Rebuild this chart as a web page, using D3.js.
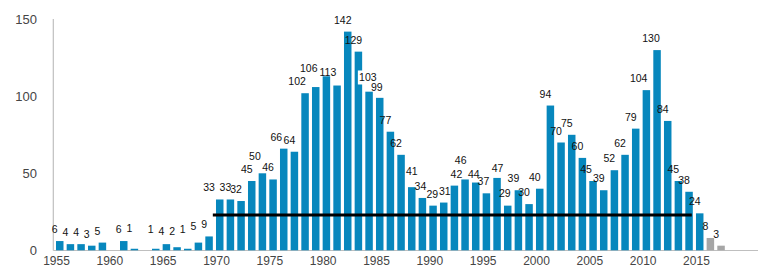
<!DOCTYPE html>
<html>
<head>
<meta charset="utf-8">
<script src="https://cdn.jsdelivr.net/npm/d3@7"></script>
<style>
  html, body { margin: 0; padding: 0; background: #fff; }
  svg { display: block; }
</style>
</head>
<body>
<svg id="chart" width="762" height="276"></svg>
<script>
// ---- data ----
const years = [1955,1956,1957,1958,1959,1960,1961,1962,1963,1964,1965,1966,1967,1968,1969,
  1970,1971,1972,1973,1974,1975,1976,1977,1978,1979,1980,1981,1982,1983,1984,1985,1986,1987,1988,1989,
  1990,1991,1992,1993,1994,1995,1996,1997,1998,1999,2000,2001,2002,2003,2004,2005,2006,2007,2008,2009,
  2010,2011,2012,2013,2014,2015,2016,2017];
const values = [6,4,4,3,5,0,6,1,0,1,4,2,1,5,9,
  33,33,32,45,50,46,66,64,102,106,113,107,142,129,103,99,77,62,41,34,
  29,31,42,46,44,37,47,29,39,30,40,94,70,75,60,45,39,52,62,79,
  104,130,84,45,38,24,8,3];
const provisionalYears = [2016, 2017];
const hiddenLabelYears = [1981];
const yTicks = [0, 50, 100, 150];
const xTickYears = [1955,1960,1965,1970,1975,1980,1985,1990,1995,2000,2005,2010,2015];
const refLine = { from: 1970, to: 2014, value: 23 };

// ---- drawing ----
const svg = d3.select("#chart");
const data = years.map((y, i) => ({ year: y, value: values[i] }));

const x = d3.scaleBand().domain(years).range([53.3, 727.5]).paddingInner(0.297).paddingOuter(0.253);
const y = d3.scaleLinear().domain([0, 150]).range([250.3, 19.3]);
const bw = x.bandwidth();
const step = x.step();

// axes lines
svg.append("line").attr("x1", 53.3).attr("x2", 53.3).attr("y1", 19).attr("y2", 250.5)
  .attr("stroke", "#bfbfbf").attr("stroke-width", 1.2);
svg.append("line").attr("x1", 53.3).attr("x2", 758).attr("y1", 250.5).attr("y2", 250.5)
  .attr("stroke", "#bfbfbf").attr("stroke-width", 1.2);

// y tick labels
svg.append("g").selectAll("text").data(yTicks).join("text")
  .attr("x", 37).attr("y", d => y(d)).attr("dy", "0.36em")
  .attr("text-anchor", "end")
  .attr("font-family", "'Liberation Sans', Arial, sans-serif").attr("font-size", 13)
  .attr("fill", "#454545").text(d => d);

// x tick labels
svg.append("g").selectAll("text").data(xTickYears).join("text")
  .attr("x", d => x(d) + 0.5).attr("y", 265)
  .attr("text-anchor", "middle")
  .attr("font-family", "'Liberation Sans', Arial, sans-serif").attr("font-size", 12)
  .attr("fill", "#454545").text(d => d);

// bars
svg.append("g").selectAll("rect").data(data.filter(d => d.value > 0)).join("rect")
  .attr("x", d => x(d.year)).attr("width", bw)
  .attr("y", d => y(d.value)).attr("height", d => y(0) - y(d.value))
  .attr("fill", d => provisionalYears.includes(d.year) ? "#a6a6a6" : "#0787bd");

// reference line
svg.append("line")
  .attr("x1", x(refLine.from) - (step - bw)).attr("x2", x(refLine.to) + bw - 1)
  .attr("y1", y(refLine.value)).attr("y2", y(refLine.value))
  .attr("stroke", "#000").attr("stroke-width", 3);

// value labels (label-placement nudges mimic the original's collision avoidance)
const nudge = {
  1962: [0, -9], 1964: [0, -7.7], 1965: [0, -1], 1966: [0, -4], 1967: [0, -7.7], 1968: [0, -4.7],
  1970: [-5.7, 0], 1974: [-2.5, -5.7], 1976: [-2.5, 0], 1978: [-3, 0], 1979: [-2, -6.6],
  1980: [6.5, 8], 1984: [3.8, -2.7], 1985: [2, 1.5], 1988: [5, -4.3], 1989: [3, 0], 1990: [4.3, 0], 1991: [6, 0],
  1992: [7, 0], 1993: [0.6, -7.3], 1994: [3, 3.6], 1995: [2, 0], 1996: [5.5, 2], 1997: [2, -1],
  2005: [-2, 0], 2010: [-2.7, 0], 2011: [-1, 0]
};
const labelData = data.filter(d => d.value > 0 && !hiddenLabelYears.includes(d.year));
const lg = svg.append("g");
labelData.forEach(d => {
  const n = nudge[d.year] || [0, 0];
  const cx = x(d.year) + bw / 2 - 5 + n[0];
  const by = y(d.value) - 8 + n[1];
  if (d.year === 1984) {
    // label box that knocks out the neighbouring bar in the original
    lg.append("rect").attr("x", cx - 10).attr("y", by - 10.5).attr("width", 20).attr("height", 14)
      .attr("fill", "#fff");
  }
  lg.append("text").attr("x", cx).attr("y", by)
    .attr("text-anchor", "middle")
    .attr("font-family", "'Liberation Sans', Arial, sans-serif").attr("font-size", 10.5)
    .attr("fill", "#111").text(d.value);
});
</script>
</body>
</html>
